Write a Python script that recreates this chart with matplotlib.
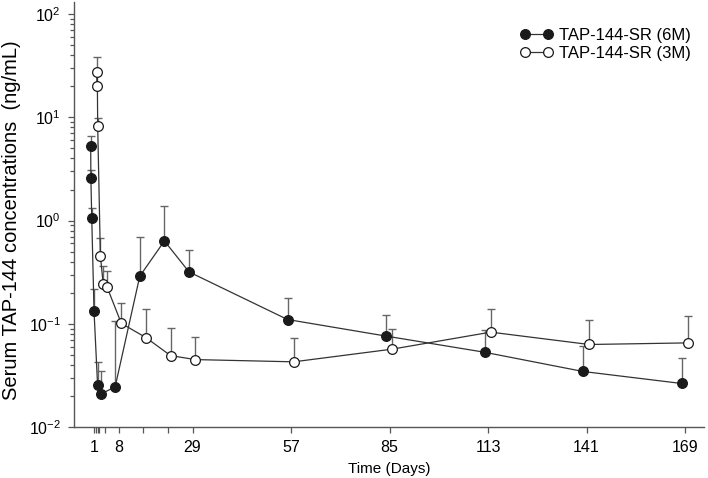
import matplotlib
matplotlib.use("Agg")
import matplotlib.pyplot as plt
from matplotlib.ticker import FixedLocator, LogLocator
import numpy as np

plt.rcParams['font.family'] = ['Liberation Sans', 'DejaVu Sans']
plt.rcParams['mathtext.fontset'] = 'custom'
plt.rcParams['mathtext.rm'] = 'Liberation Sans'

# TAP-144-SR (6M): time (axis days), mean, mean + SD
t_6m = [0.05, 0.1, 0.35, 1.0, 2.0, 3.0, 7, 14, 21, 28, 56, 84, 112, 140, 168]
mean_6m = [5.3, 2.57, 1.05, 0.132, 0.0258, 0.0209, 0.0245, 0.289, 0.635,
           0.318, 0.11, 0.076, 0.053, 0.0345, 0.0264]
upper_6m = [6.6, 3.1, 1.32, 0.216, 0.0425, 0.0352, 0.106, 0.698, 1.37,
            0.522, 0.177, 0.121, 0.087, 0.0607, 0.0465]

# TAP-144-SR (3M)
t_3m = [1.84, 1.92, 2.04, 2.8, 3.6, 4.7, 8.75, 15.75, 22.75, 29.75,
        57.75, 85.75, 113.75, 141.75, 169.75]
mean_3m = [20.2, 27.5, 8.2, 0.458, 0.243, 0.227, 0.101, 0.0735, 0.0492,
           0.045, 0.0428, 0.0568, 0.083, 0.063, 0.0653]
upper_3m = [26.0, 38.4, 9.8, 0.68, 0.366, 0.323, 0.158, 0.14, 0.092,
            0.075, 0.0735, 0.0897, 0.139, 0.108, 0.118]

xticks = [1, 8, 29, 57, 85, 113, 141, 169]
xminor = [1.5, 2, 2.5, 4, 15, 22]

fs = 11.5
fig = plt.figure(figsize=(7.08, 4.78), dpi=100)
ax = fig.add_axes([0.1045, 0.1067, 0.8895, 0.889])

line_c = '#333333'
err_c = '#666666'

for t, m, u, face, lab in [(t_6m, mean_6m, upper_6m, '#1a1a1a', 'TAP-144-SR (6M)'),
                           (t_3m, mean_3m, upper_3m, 'white', 'TAP-144-SR (3M)')]:
    m = np.array(m)
    err = np.array(u) - m
    ax.errorbar(t, m, yerr=[np.zeros_like(err), err], fmt='none',
                ecolor=err_c, elinewidth=1.0, capsize=3, capthick=1.0,
                zorder=2)
    ax.plot(t, m, '-o', color=line_c, lw=0.9, mfc=face, mec='#1a1a1a',
            mew=0.9, ms=7, label=lab, zorder=3)

ax.set_yscale('log')
ax.set_ylim(0.01, 131)
ax.set_xlim(-4.7, 174.3)

ax.yaxis.set_major_locator(LogLocator(base=10, numticks=10))
ax.yaxis.set_minor_locator(LogLocator(base=10, subs=np.arange(2, 10), numticks=10))
ax.xaxis.set_major_locator(FixedLocator(xticks))
ax.xaxis.set_minor_locator(FixedLocator(xminor))

for s in ['top', 'right']:
    ax.spines[s].set_visible(False)
for s in ['left', 'bottom']:
    ax.spines[s].set_color('#555555')
    ax.spines[s].set_linewidth(1.0)

ax.tick_params(which='major', direction='out', length=4.4, width=0.9,
               color='#555555', labelsize=fs)
ax.tick_params(axis='x', which='major', pad=5)
ax.tick_params(axis='y', which='major', pad=5)
ax.tick_params(axis='y', which='minor', direction='out', length=2.9, width=0.9,
               color='#555555')
ax.tick_params(axis='x', which='minor', direction='out', length=4.4, width=0.9,
               color='#555555')

ax.set_xlabel('Time (Days)', fontsize=11, labelpad=5)
ax.set_ylabel('Serum TAP-144 concentrations  (ng/mL)', fontsize=14.5)
ax.yaxis.set_label_coords(-0.084, 0.486)

ax.legend(loc='upper right', bbox_to_anchor=(0.99, 0.955), frameon=False,
          fontsize=12, numpoints=2, handlelength=1.95, handletextpad=0.37,
          labelspacing=0.18, borderaxespad=0)

fig.savefig('out.png', dpi=100)
